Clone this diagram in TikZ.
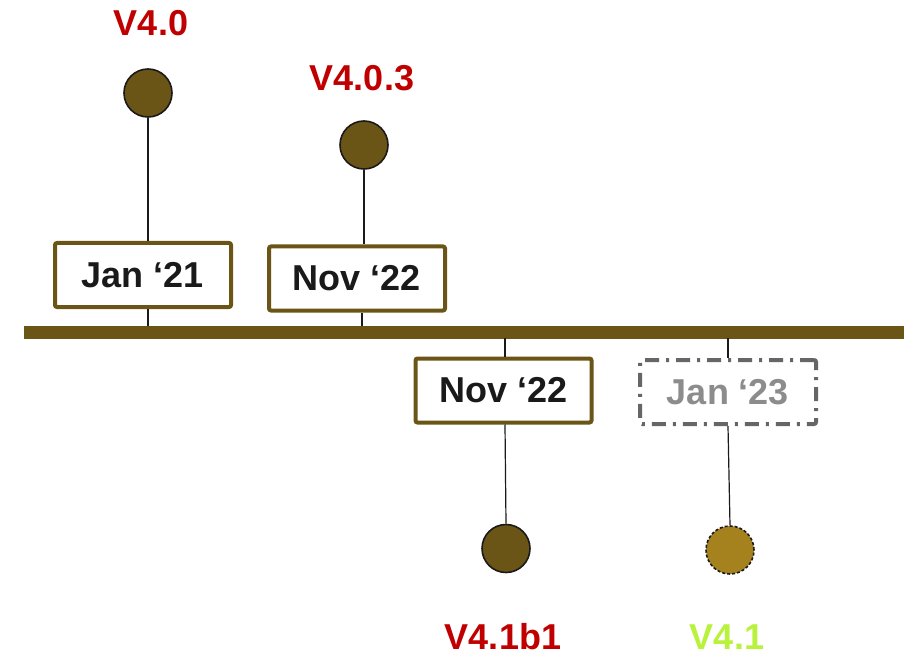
\documentclass[tikz,border=0pt]{standalone}
\usepackage{fontspec}
\setmainfont{Liberation Sans}
\definecolor{tlbrown}{HTML}{6B5516}
\definecolor{tlgold}{HTML}{A6821F}
\definecolor{tlred}{HTML}{C00000}
\definecolor{tlgreen}{HTML}{B8F23C}
\definecolor{tlgray}{HTML}{666666}
\definecolor{tltext}{HTML}{1A1A1A}
\begin{document}
\begin{tikzpicture}[x=1pt,y=-1pt,
  datebox/.style={draw=tlbrown,line width=4pt,rounded corners=2pt,fill=white,
    minimum width=176pt,minimum height=64pt,inner sep=0pt,
    font=\fontsize{36}{40}\selectfont\bfseries,text=tltext},
  futurebox/.style={draw=tlgray,line width=4pt,rounded corners=2pt,fill=white,
    dash pattern=on 14pt off 7pt on 3pt off 7pt,
    minimum width=176pt,minimum height=64pt,inner sep=0pt,
    font=\fontsize{36}{40}\selectfont\bfseries,text=tlgray!75},
  release/.style={circle,draw=tltext,line width=1.6pt,fill=tlbrown,minimum size=48pt,inner sep=0pt},
  futurerel/.style={circle,draw=tltext,line width=1.6pt,dashed,dash pattern=on 3pt off 2pt,fill=tlgold,minimum size=48pt,inner sep=0pt},
  verlabel/.style={font=\fontsize{36}{40}\selectfont\bfseries,inner sep=0pt},
  stem/.style={draw=tltext,line width=1.2pt}
]
\useasboundingbox (0,0) rectangle (913,655);
% timeline bar
\fill[tlbrown] (24,325.5) rectangle (904,338.5);
\coordinate (b1) at (148,326);
\coordinate (b2) at (362,326);
\coordinate (b3) at (505,338);
\coordinate (b4) at (728,338);
% top releases
\node[verlabel,text=tlred] (l1) at (151,23) {V4.0};
\node[release] (c1) at (148,93) {};
\node[datebox] (d1) at (143,275) {Jan ‘21};
\node[verlabel,text=tlred] (l2) at (362,78) {V4.0.3};
\node[release] (c2) at (364,145) {};
\node[datebox] (d2) at (357,278.5) {Nov ‘22};
% bottom releases
\node[datebox] (d3) at (503.5,390.5) {Nov ‘22};
\node[release] (c3) at (506,548.5) {};
\node[verlabel,text=tlred] (l3) at (503,637) {V4.1b1};
\node[futurebox] (d4) at (728,392) {Jan ‘23};
\node[futurerel] (c4) at (730,550) {};
\node[verlabel,text=tlgreen] (l4) at (727,637) {V4.1};
% stems
\begin{scope}[on background layer/.style={}]
\end{scope}
\draw[stem] (c1.south) -- (c1.south |- d1.north);
\draw[stem] (d1.south -| b1) -- (b1);
\draw[stem] (c2.south) -- (c2.south |- d2.north);
\draw[stem] (d2.south -| b2) -- (b2);
\draw[stem] (b3) -- (b3 |- d3.north);
\draw[stem] (d3.south -| b3) -- (c3.north);
\draw[stem] (b4) -- (b4 |- d4.north);
\draw[stem] (d4.south -| b4) -- (c4.north);
\end{tikzpicture}
\end{document}
